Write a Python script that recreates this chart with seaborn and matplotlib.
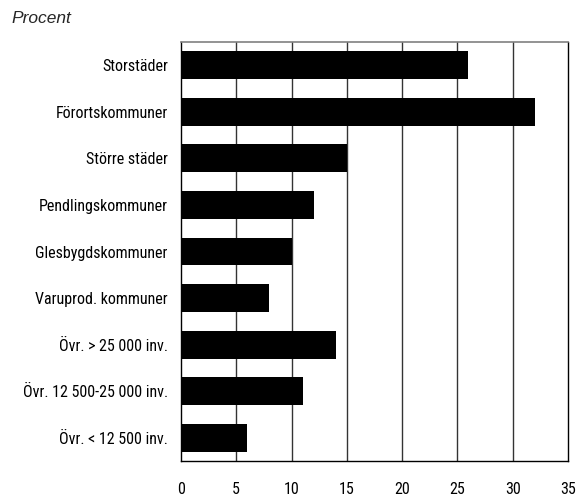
import matplotlib
matplotlib.use("Agg")
import matplotlib.pyplot as plt
import seaborn as sns
import pandas as pd
from matplotlib import font_manager
from matplotlib.font_manager import FontProperties

categories = ["Storstäder", "Förortskommuner", "Större städer", "Pendlingskommuner",
              "Glesbygdskommuner", "Varuprod. kommuner", "Övr. > 25 000 inv.",
              "Övr. 12 500-25 000 inv.", "Övr. < 12 500 inv."]
values = [26, 32, 15, 12, 10, 8, 14, 11, 6]
xticks = [0, 5, 10, 15, 20, 25, 30, 35]

df = pd.DataFrame({"kategori": categories, "procent": values})

sns.set_theme(style="white")
plt.rcParams["font.family"] = ["DejaVu Sans"]


def find_condensed():
    cands = []
    for f in font_manager.fontManager.ttflist:
        if f.style != "normal":
            continue
        w = f.weight if isinstance(f.weight, int) else 400
        if w != 400:
            continue
        name = f.name
        fname = f.fname.lower()
        cond = ("narrow" in name.lower() or "condensed" in name.lower()
                or "condensed" in fname or "narrow" in fname
                or str(f.stretch) in ("condensed", "semi-condensed", "extra-condensed"))
        if not cond:
            continue
        if any(k in fname for k in ("bold", "light", "thin", "medium", "black",
                                    "italic", "semibold")):
            continue
        if "liberation" in fname:
            rank = 0
        elif "roboto" in fname:
            rank = 1
        elif "open" in fname:
            rank = 2
        elif "noto" in fname and "cjk" not in fname:
            rank = 3
        elif "dejavu" in fname:
            rank = 5
        else:
            rank = 4
        cands.append((rank, f.fname))
    if not cands:
        return None
    cands.sort()
    return cands[0][1]


cpath = find_condensed()
if cpath:
    lab_fp = FontProperties(fname=cpath, size=11.5)
else:
    lab_fp = FontProperties(family="DejaVu Sans", size=9.5)

fig = plt.figure(figsize=(5.78, 4.97), dpi=100)
ax = fig.add_axes([0.3131, 0.0724, 0.6696, 0.8431])

sns.barplot(data=df, x="procent", y="kategori", color="black", width=0.6,
            saturation=1, linewidth=0, edgecolor="black", ax=ax, zorder=3)

ax.set_xlim(0, 35)
ax.set_xticks(xticks)
ax.set_xticklabels([str(t) for t in xticks])
ax.set_ylim(len(categories) - 0.5, -0.5)
ax.tick_params(axis="y", length=0, pad=9.5, labelcolor="black")
ax.tick_params(axis="x", length=5, width=1, color="black", direction="out",
               pad=10, labelcolor="black")
for lbl in ax.get_xticklabels() + ax.get_yticklabels():
    lbl.set_fontproperties(lab_fp)
ax.set_xlabel("")
ax.set_ylabel("")

for t in xticks[1:-1]:
    ax.axvline(t, color="#333333", lw=1.0, zorder=1)

for side in ["left", "bottom", "right"]:
    ax.spines[side].set_visible(True)
    ax.spines[side].set_color("black")
    ax.spines[side].set_linewidth(1.0)
ax.spines["top"].set_visible(True)
ax.spines["top"].set_color("#808080")
ax.spines["top"].set_linewidth(1.2)

fig.text(0.019, 0.963, "Procent", fontsize=12.5, style="italic",
         family=["Liberation Sans", "DejaVu Sans"], ha="left", va="center")

fig.savefig("out.png", dpi=100)
